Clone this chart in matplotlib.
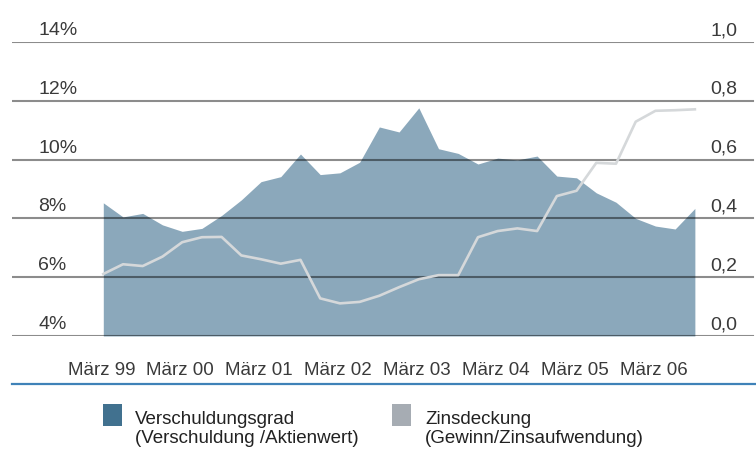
import matplotlib
matplotlib.use('Agg')
import matplotlib.pyplot as plt
from matplotlib.patches import Rectangle
from matplotlib.lines import Line2D
import matplotlib.transforms as mtransforms
import numpy as np

plt.rcParams['font.family'] = ['Liberation Sans Narrow', 'Liberation Sans', 'DejaVu Sans']

# quarterly values, März 99 .. Sep 06
verschuldung = [8.53, 8.05, 8.17, 7.78, 7.56, 7.66, 8.1, 8.63, 9.25, 9.42,
                10.19, 9.49, 9.55, 9.91, 11.11, 10.94, 11.76, 10.37, 10.21, 9.85,
                10.05, 9.99, 10.12, 9.44, 9.38, 8.87, 8.55, 8.0, 7.74, 7.64, 8.34]
zinsdeckung = [0.211, 0.244, 0.238, 0.270, 0.319, 0.336, 0.337, 0.274, 0.261, 0.246,
               0.259, 0.128, 0.111, 0.116, 0.137, 0.166, 0.193, 0.207, 0.207, 0.336,
               0.357, 0.366, 0.357, 0.476, 0.494, 0.589, 0.586, 0.729, 0.766, 0.768, 0.771]
xlabels = ['März 99', 'März 00', 'März 01', 'März 02', 'März 03', 'März 04', 'März 05', 'März 06']
left_ticks = [4, 6, 8, 10, 12, 14]
left_labels = ['4%', '6%', '8%', '10%', '12%', '14%']
right_ticks = [0.0, 0.2, 0.4, 0.6, 0.8, 1.0]
right_labels = ['0,0', '0,2', '0,4', '0,6', '0,8', '1,0']
legend_titles = ['Verschuldungsgrad', 'Zinsdeckung']
legend_subs = ['(Verschuldung /Aktienwert)', '(Gewinn/Zinsaufwendung)']

W, H = 756, 458
txt = '#3a3a3a'
area_col = '#8ba8bb'

fig = plt.figure(figsize=(W / 100, H / 100), dpi=100)
ax = fig.add_axes([12 / W, (H - 336) / H, 744 / W, 294 / H])
ax2 = ax.twinx()

x = np.arange(len(verschuldung))
ax.fill_between(x, 4, verschuldung, color=area_col, lw=0, zorder=1)
ax.set_ylim(4, 14)
ax.set_xlim(-4.63, 33.1)
ax2.set_ylim(0, 1)

for t in left_ticks:
    ax.axhline(t, xmin=0, xmax=0.996, color='black', alpha=0.45, lw=1.5, zorder=2)

ax2.plot(x, zinsdeckung, color='#d5d8da', lw=1.9, zorder=3)

trans_l = mtransforms.blended_transform_factory(ax.transAxes, ax.transData)
for t, lab in zip(left_ticks, left_labels):
    ax.annotate(lab, (0.035, t), xycoords=trans_l, xytext=(0, 5), textcoords='offset points',
                ha='left', va='baseline', fontsize=14, color=txt)
trans_r = mtransforms.blended_transform_factory(ax2.transAxes, ax2.transData)
for t, lab in zip(right_ticks, right_labels):
    ax2.annotate(lab, (0.9745, t), xycoords=trans_r, xytext=(0, 5), textcoords='offset points',
                 ha='right', va='baseline', fontsize=14, color=txt)

ax.set_xticks(np.arange(0, 4 * len(xlabels), 4) - 0.1)
ax.set_xticklabels(xlabels, fontsize=13.5, color=txt)
ax.tick_params(axis='x', length=0, pad=19)
ax.set_yticks([])
ax2.set_yticks([])
for a in (ax, ax2):
    for s in a.spines.values():
        s.set_visible(False)

fig.add_artist(Line2D([12 / W, 1], [(H - 383.5) / H] * 2, color='#3f82b8', lw=1.6))

sq_cols = ['#41718f', '#a6acb3']
sq_x = [102.7, 391.7]
tx_x = [135, 425]
for c, sx, tx, t1, t2 in zip(sq_cols, sq_x, tx_x, legend_titles, legend_subs):
    fig.add_artist(Rectangle((sx / W, (H - 426) / H), 19 / W, 22 / H, color=c, lw=0))
    fig.text(tx / W, (H - 424.5) / H, t1, fontsize=13.5, color='#222222', va='baseline')
    fig.text(tx / W, (H - 443) / H, t2, fontsize=13.5, color='#222222', va='baseline')

fig.savefig('out.png', dpi=100)
